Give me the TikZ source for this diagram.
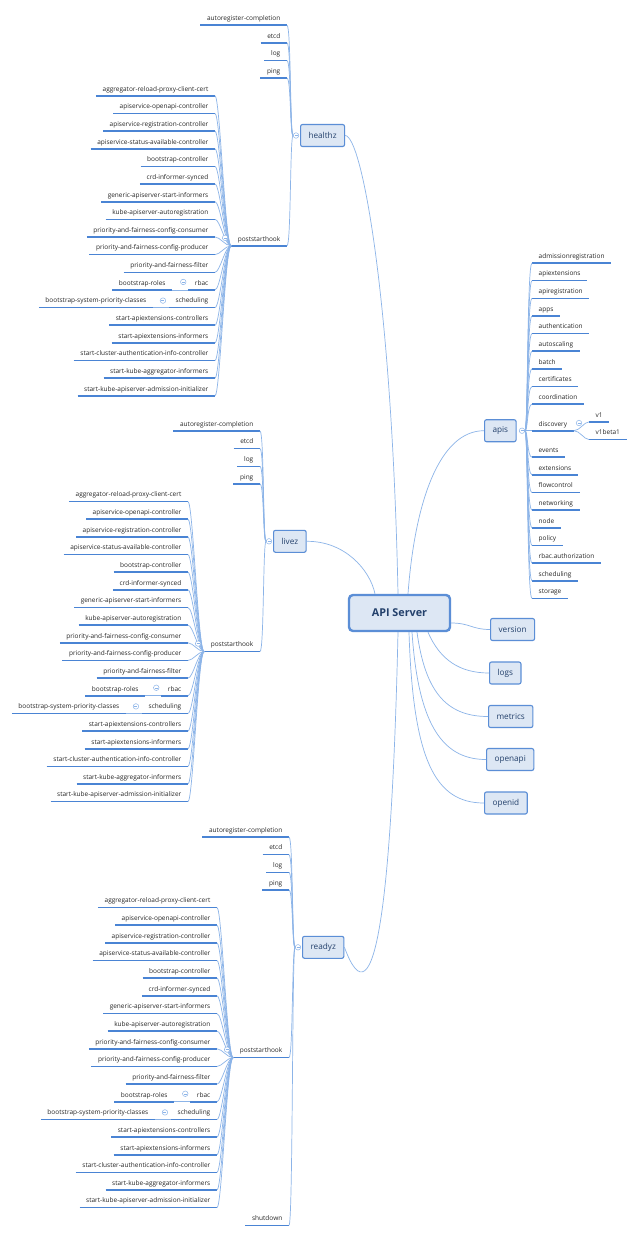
\documentclass[tikz,border=0pt]{standalone}
\usepackage{fontspec}
\setmainfont{Open Sans}
\usepackage{tikz}
\definecolor{linkc}{HTML}{8CB4E8}
\definecolor{linec}{HTML}{4A84D4}
\definecolor{topicfill}{HTML}{DDE7F4}
\definecolor{topicdraw}{HTML}{5B8ED6}
\definecolor{topictext}{HTML}{23406B}
\tikzstyle{link}=[draw=linkc, line width=0.7pt]
\tikzstyle{uline}=[draw=linec, line width=1.6pt]
\tikzstyle{leaf}=[inner xsep=6.5pt, inner ysep=3pt, text height=5pt, text depth=1.5pt, text=black!85, font=\fontsize{6.5}{8}\selectfont, append after command={(\tikzlastnode.south west) edge[uline] (\tikzlastnode.south east)}]
\tikzstyle{lleaf}=[leaf, anchor=south east]
\tikzstyle{rleaf}=[leaf, anchor=south west]
\tikzstyle{topic}=[draw=topicdraw, fill=topicfill, line width=1.1pt, rounded corners=2pt, minimum height=22pt, inner xsep=8pt, text=topictext, font=\fontsize{8.2}{10}\selectfont]
\tikzstyle{fold}=[circle, draw=linkc, fill=white, line width=0.5pt, minimum size=5.5pt, inner sep=0pt, path picture={\draw[linkc, line width=0.5pt] ([xshift=-1.5pt]path picture bounding box.center) -- ([xshift=1.5pt]path picture bounding box.center);}]

\newcommand{\probegroup}[4]{%
  \node[fold] (#1f) at (#3+9,#4+110.3) {};
  \node[topic, anchor=west] (#1) at (#3+13,#4+110.3) {#2};
  \foreach \lbl [count=\k] in {autoregister-completion,etcd,log,ping}
    \node[lleaf] (#1-c\k) at (#3,{#4+17.65*(\k-1)}) {\lbl};
  \node[lleaf] (#1-ps) at (#3,#4+220.6) {poststarthook};
  \foreach \c in {c1,c2,c3,c4,ps}
    \draw[link] (#1-\c.south east) .. controls +(4,0) and +(-3,0) .. (#1f.west);
  \foreach \lbl [count=\k] in {aggregator-reload-proxy-client-cert,apiservice-openapi-controller,apiservice-registration-controller,apiservice-status-available-controller,bootstrap-controller,crd-informer-synced,generic-apiserver-start-informers,kube-apiserver-autoregistration,priority-and-fairness-config-consumer,priority-and-fairness-config-producer,priority-and-fairness-filter,rbac,scheduling,start-apiextensions-controllers,start-apiextensions-informers,start-cluster-authentication-info-controller,start-kube-aggregator-informers,start-kube-apiserver-admission-initializer}
  {
    \node[lleaf] (#1-p\k) at (#3-72,{#4+17.65*(\k+3)}) {\lbl};
    \draw[link] (#1-p\k.south east) .. controls +(5,0) and +(-6,0) .. (#1-ps.south west);
  }
  \node[fold] (#1-pf) at ([xshift=-6pt,yshift=8pt]#1-ps.south west) {};
  \node[lleaf] (#1-br) at ([xshift=-16pt]#1-p12.south west) {bootstrap-roles};
  \draw[link] (#1-p12.south west) -- (#1-br.south east);
  \node[fold] (#1-rf) at ([xshift=-5pt,yshift=8pt]#1-p12.south west) {};
  \node[lleaf] (#1-bs) at ([xshift=-16pt]#1-p13.south west) {bootstrap-system-priority-classes};
  \draw[link] (#1-p13.south west) -- (#1-bs.south east);
  \node[fold] (#1-sf) at ([xshift=-6pt,yshift=7pt]#1-p13.south west) {};
}

\begin{document}
\begin{tikzpicture}[x=1pt,y=-1pt]
\fill[white] (0,0) rectangle (640,1235);
\useasboundingbox (0,0) rectangle (640,1235);

\probegroup{hz}{healthz}{287}{25.2}
\probegroup{lz}{livez}{260}{431}
\probegroup{rz}{readyz}{289}{837}
\node[lleaf] (rz-sd) at (289,837+22*17.65) {shutdown};
\draw[link] (rz-sd.south east) .. controls +(4,0) and +(-3,0) .. (rzf.west);

\node[fold] (apisf) at (522,430.7) {};
\node[topic, anchor=west] (apis) at (484,430.7) {apis};
\foreach \lbl [count=\k] in {admissionregistration,apiextensions,apiregistration,apps,authentication,autoscaling,batch,certificates,coordination}
{
  \node[rleaf] (ap-\k) at (532,{263+17.65*(\k-1)}) {\lbl};
  \draw[link] (apisf.east) .. controls +(3,0) and +(-5,0) .. (ap-\k.south west);
}
\node[rleaf] (disc) at (532,430.7) {discovery};
\draw[link] (apisf.east) -- (disc.south west);
\foreach \lbl [count=\k] in {events,extensions,flowcontrol,networking,node,policy,rbac.authorization,scheduling,storage}
{
  \node[rleaf] (aq-\k) at (532,{457.2+17.65*(\k-1)}) {\lbl};
  \draw[link] (apisf.east) .. controls +(3,0) and +(-5,0) .. (aq-\k.south west);
}
\node[rleaf] (v1) at (589,421.9) {v1};
\node[rleaf] (v1b) at (589,439.5) {v1beta1};
\draw[link] (disc.south east) .. controls +(6,0) and +(-5,0) .. (v1.south west);
\draw[link] (disc.south east) .. controls +(6,0) and +(-5,0) .. (v1b.south west);
\node[fold] (discf) at (579,423) {};

\node[topic, line width=2.4pt, rounded corners=4pt, minimum width=101pt, minimum height=36pt, font=\bfseries\fontsize{10.8}{13}\selectfont] (api) at (399.5,613) {API Server};
\node[topic, anchor=west] (version) at (490,629.5) {version};
\node[topic, anchor=west] (logs) at (489,673) {logs};
\node[topic, anchor=west] (metrics) at (488,716.5) {metrics};
\node[topic, anchor=west] (openapi) at (486,759.5) {openapi};
\node[topic, anchor=west] (openid) at (484,803) {openid};

\draw[link] ([xshift=-1.5pt]api.north) .. controls (392,300) and (362,135.5) .. (hz.east);
\draw[link] ([xshift=-24.5pt]api.north) .. controls (370,570) and (345,541) .. (lz.east);
\draw[link] ([xshift=8.5pt]api.north) .. controls (415,500) and (440,430.7) .. (apis.west);
\draw[link] ([xshift=-1.5pt]api.south) .. controls (392,900) and (375,1030) .. (rz.east);
\draw[link] ([yshift=-10pt]api.east) .. controls (470,623) and (472,629.5) .. (version.west);
\draw[link] ([xshift=28.5pt]api.south) .. controls (440,660) and (460,673) .. (logs.west);
\draw[link] ([xshift=17.5pt]api.south) .. controls (425,690) and (445,716.5) .. (metrics.west);
\draw[link] ([xshift=12.5pt]api.south) .. controls (418,720) and (440,759.5) .. (openapi.west);
\draw[link] ([xshift=9.5pt]api.south) .. controls (413,760) and (435,803) .. (openid.west);
\end{tikzpicture}
\end{document}
